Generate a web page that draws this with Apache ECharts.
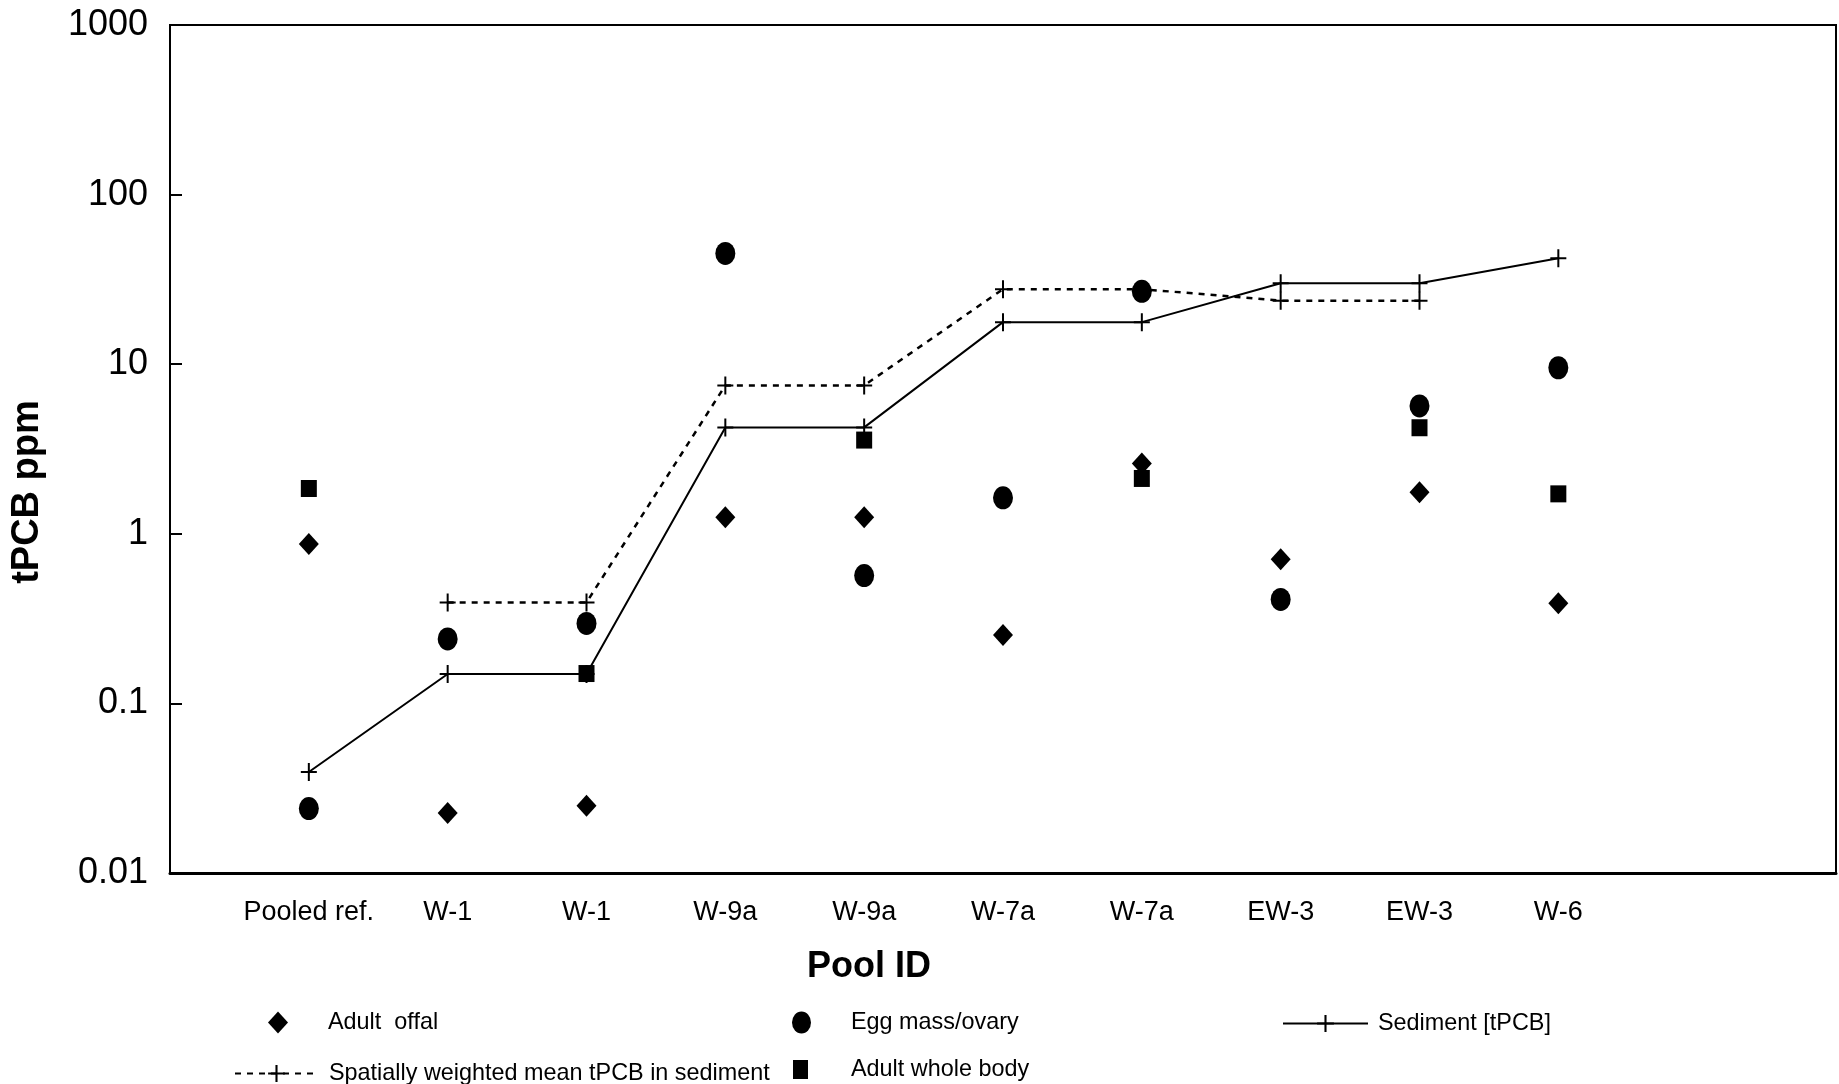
<!DOCTYPE html>
<html>
<head>
<meta charset="utf-8">
<script src="https://cdn.jsdelivr.net/npm/echarts@6/dist/echarts.min.js"></script>
<style>
  html, body { margin: 0; padding: 0; background: #fff; }
  #main { width: 1839px; height: 1084px; }
</style>
</head>
<body>
<div id="main"></div>
<script>
// pool ids, positions 1..10 on the x axis
var poolIds = ['Pooled ref.', 'W-1', 'W-1', 'W-9a', 'W-9a', 'W-7a', 'W-7a', 'EW-3', 'EW-3', 'W-6'];
var yTicks = [0.01, 0.1, 1, 10, 100, 1000];

var adultOffal = [0.87, 0.0226, 0.0249, 1.25, 1.25, 0.253, 2.6, 0.707, 1.76, 0.389];
var eggMass = [0.024, 0.24, 0.296, 45, 0.567, 1.63, 26.9, 0.41, 5.67, 9.53];
var wholeBody = [1.85, null, 0.15, null, 3.57, null, 2.12, null, 4.22, 1.72];
var sediment = [0.0394, 0.149, 0.149, 4.24, 4.24, 17.7, 17.7, 30.0, 30.0, 42.1];
var weightedMean = [null, 0.394, 0.394, 7.5, 7.5, 27.7, 27.7, 23.7, 23.7, null];

function pts(arr) {
    var out = [];
    arr.forEach(function (v, i) {
        if (v != null) out.push([i + 1, v]);
    });
    return out;
}

var crossSym = 'path://M0,8H16V10H0Z M7,0H9V18H7Z';
var ellipseSym = 'path://M10,0A10,11.5,0,1,1,10,23A10,11.5,0,1,1,10,0Z';
var font = 'Liberation Sans, Arial, sans-serif';

var myChart = echarts.init(document.getElementById('main'));

var option = {
    animation: false,
    backgroundColor: '#fff',
    grid: {
        left: 170, top: 25, right: 2, bottom: 211,
        show: true, borderColor: '#000', borderWidth: 2
    },
    xAxis: {
        type: 'value',
        min: 0, max: 12, interval: 1,
        name: 'Pool ID',
        nameLocation: 'middle',
        nameGap: 76,
        nameTextStyle: { color: '#000', fontFamily: font, fontSize: 36, fontWeight: 'bold', padding: [0, 268, 0, 0] },
        axisLine: { lineStyle: { color: '#000', width: 3 } },
        axisTick: { show: false },
        splitLine: { show: false },
        axisLabel: {
            color: '#000', fontFamily: font, fontSize: 27, margin: 26,
            formatter: function (v) { return poolIds[v - 1] || ''; }
        }
    },
    yAxis: {
        type: 'log',
        logBase: 10,
        min: yTicks[0], max: yTicks[yTicks.length - 1],
        splitNumber: 5,
        name: 'tPCB ppm',
        nameLocation: 'middle',
        nameRotate: 90,
        nameGap: 123,
        nameTextStyle: { color: '#000', fontFamily: font, fontSize: 38, fontWeight: 'bold', padding: [0, 86, 0, 0] },
        axisLine: { show: true, lineStyle: { color: '#000', width: 2 } },
        axisTick: { show: true, inside: true, length: 12, lineStyle: { color: '#000', width: 2 } },
        minorTick: { show: false },
        splitLine: { show: false },
        axisLabel: {
            color: '#000', fontFamily: font, fontSize: 36, margin: 22,
            formatter: function (v) { return String(Number(v.toPrecision(2))); }
        }
    },
    legend: [
        { data: ['Adult  offal'], left: 268, top: 1011, padding: 0, itemWidth: 20, itemHeight: 22,
          textStyle: { color: '#000', fontFamily: font, fontSize: 23.4, padding: [0, 0, 18, 35] } },
        { data: ['Spatially weighted mean tPCB in sediment'], left: 234, top: 1062, padding: 0, itemWidth: 83, itemHeight: 21,
          textStyle: { color: '#000', fontFamily: font, fontSize: 23.4, padding: [0, 0, 15, 6] } },
        { data: ['Egg mass/ovary'], left: 792, top: 1011, padding: 0, itemWidth: 19, itemHeight: 24,
          textStyle: { color: '#000', fontFamily: font, fontSize: 23.4, padding: [0, 0, 18, 35] } },
        { data: ['Adult whole body'], left: 793, top: 1058, padding: 0, itemWidth: 15, itemHeight: 19,
          textStyle: { color: '#000', fontFamily: font, fontSize: 23.4, padding: [0, 0, 6, 38] } },
        { data: ['Sediment [tPCB]'], left: 1282, top: 1012, padding: 0, itemWidth: 85, itemHeight: 21,
          textStyle: { color: '#000', fontFamily: font, fontSize: 23.4, padding: [0, 0, 28, 5] } }
    ],
    series: [
        {
            name: 'Sediment [tPCB]',
            type: 'line',
            data: pts(sediment),
            symbol: crossSym,
            symbolSize: [16, 18],
            showSymbol: true,
            itemStyle: { color: '#000' },
            lineStyle: { color: '#000', width: 2 },
            z: 2
        },
        {
            name: 'Spatially weighted mean tPCB in sediment',
            type: 'line',
            data: pts(weightedMean),
            symbol: crossSym,
            symbolSize: [16, 18],
            showSymbol: true,
            itemStyle: { color: '#000' },
            lineStyle: { color: '#000', width: 2.5, type: [6, 6] },
            z: 2
        },
        {
            name: 'Adult  offal',
            type: 'scatter',
            data: pts(adultOffal),
            symbol: 'diamond',
            symbolSize: [20, 22],
            itemStyle: { color: '#000', opacity: 1 },
            z: 3
        },
        {
            name: 'Egg mass/ovary',
            type: 'scatter',
            data: pts(eggMass),
            symbol: ellipseSym,
            symbolSize: [20, 23],
            itemStyle: { color: '#000', opacity: 1 },
            z: 3
        },
        {
            name: 'Adult whole body',
            type: 'scatter',
            data: pts(wholeBody),
            symbol: 'rect',
            symbolSize: [16, 17],
            itemStyle: { color: '#000', opacity: 1 },
            z: 3
        }
    ]
};

myChart.setOption(option);
</script>
</body>
</html>
